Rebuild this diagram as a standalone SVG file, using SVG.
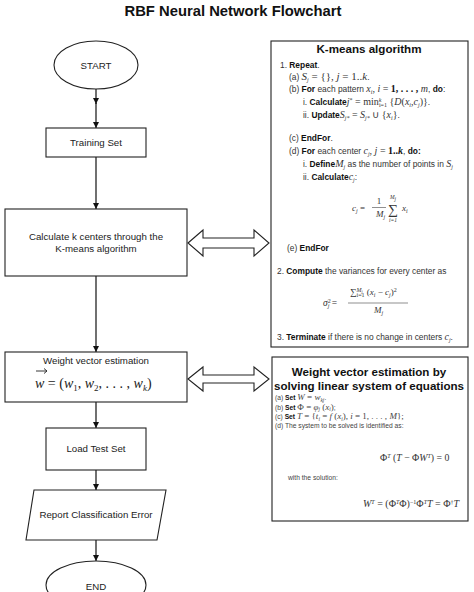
<svg xmlns="http://www.w3.org/2000/svg" width="474" height="592" viewBox="0 0 474 592">
<defs>
<style>
.sh{fill:#fff;stroke:#222;stroke-width:1.1}
.ln{stroke:#111;stroke-width:1.2;fill:none}
.t{font-family:"Liberation Sans",Arial,sans-serif;font-size:9.7px;fill:#222;text-anchor:middle}
.ttl{font-family:"Liberation Sans",Arial,sans-serif;font-weight:bold;fill:#111;text-anchor:middle}
.s{font-family:"Liberation Sans",Arial,sans-serif;font-size:8.4px;fill:#333}
.s2{font-family:"Liberation Sans",Arial,sans-serif;font-size:6.7px;fill:#444}
.b{font-weight:bold;fill:#111}
.m{font-family:"Liberation Serif","Times New Roman",serif;font-style:italic}
.u{font-family:"Liberation Serif","Times New Roman",serif;font-style:normal}
.sub{font-size:6px}
</style>
<marker id="ah" viewBox="0 0 10 10" refX="10" refY="5" markerWidth="5" markerHeight="5" orient="auto"><path d="M0,0L10,5L0,10z" fill="#111"/></marker>
</defs>
<rect width="474" height="592" fill="#fff"/>
<text x="233" y="16" class="ttl" font-size="14.8">RBF Neural Network Flowchart</text>

<g id="connectors">
<path class="ln" d="M96,89V104" marker-end="url(#ah)"/>
<path class="ln" d="M96,103V128" marker-end="url(#ah)"/>
<path class="ln" d="M96,157V209" marker-end="url(#ah)"/>
<path class="ln" d="M96,276V352" marker-end="url(#ah)"/>
<path class="ln" d="M96,402V428" marker-end="url(#ah)"/>
<path class="ln" d="M96,470V490" marker-end="url(#ah)"/>
<path class="ln" d="M96,540V561" marker-end="url(#ah)"/>
<polygon class="sh" points="188,243 203,230 203,238 254,238 254,230 269,243 254,256 254,248 203,248 203,256"/>
<polygon class="sh" points="188,379 203,367 203,375 254,375 254,367 269,379 254,391 254,383 203,383 203,391"/>
</g>

<g id="start">
<ellipse class="sh" cx="96" cy="65" rx="42" ry="24"/>
<text x="96" y="68.5" class="t">START</text>
</g>
<g id="training">
<rect class="sh" x="46" y="128" width="100" height="29"/>
<text x="96" y="146" class="t">Training Set</text>
</g>
<g id="kcenters">
<rect class="sh" x="5" y="209" width="182" height="67"/>
<text x="96" y="240" class="t">Calculate k centers through the</text>
<text x="96" y="252" class="t">K-means algorithm</text>
</g>
<g id="weight">
<rect class="sh" x="5" y="352" width="182" height="50"/>
<text x="96" y="364" class="t">Weight vector estimation</text>
<path d="M36,371H47M44,368.5L47,371L44,373.5" stroke="#222" stroke-width="0.9" fill="none"/>
<text x="35" y="388" font-size="14" fill="#222"><tspan class="m">w</tspan><tspan class="u"> = (</tspan><tspan class="m">w</tspan><tspan class="u" font-size="9" dy="3">1</tspan><tspan class="u" dy="-3">, </tspan><tspan class="m">w</tspan><tspan class="u" font-size="9" dy="3">2</tspan><tspan class="u" dy="-3">, . . . , </tspan><tspan class="m">w</tspan><tspan class="m" font-size="9" dy="3">k</tspan><tspan class="u" dy="-3">)</tspan></text>
</g>
<g id="loadtest">
<rect class="sh" x="46" y="428" width="100" height="42"/>
<text x="96" y="452" class="t">Load Test Set</text>
</g>
<g id="report">
<polygon class="sh" points="34,490 166,490 157,540 26,540"/>
<text x="96" y="518" class="t">Report Classification Error</text>
</g>
<g id="end">
<ellipse class="sh" cx="96" cy="585" rx="50" ry="24"/>
<text x="96" y="590" class="t">END</text>
</g>

<g id="kmeans">
<rect class="sh" x="271" y="41" width="197" height="306"/>
<text x="369" y="53" class="ttl" font-size="11.6">K-means algorithm</text>
<text x="280" y="68" class="s">1. <tspan class="b">Repeat</tspan>.</text>
<text x="289" y="80" class="s">(a)  <tspan class="m" font-size="11">S</tspan><tspan class="m sub" dy="2">j</tspan><tspan class="u" font-size="11" dy="-2"> = {},  </tspan><tspan class="m" font-size="11">j</tspan><tspan class="u" font-size="11"> = 1..</tspan><tspan class="m" font-size="11">k</tspan>.</text>
<text x="289" y="92" class="s">(b)  <tspan class="b">For</tspan> each pattern <tspan class="m" font-size="10">x</tspan><tspan class="m sub" dy="2">i</tspan><tspan class="u" font-size="10" dy="-2">,  </tspan><tspan class="m" font-size="10">i</tspan><tspan class="u" font-size="10"> = </tspan><tspan class="u b" font-size="10">1, . . . , </tspan><tspan class="m" font-size="10">m</tspan>, <tspan class="b">do</tspan>:</text>
<text x="303" y="105" class="s">i.  <tspan class="b">Calculate</tspan><tspan class="m" font-size="10">j</tspan><tspan class="u sub" dy="-3">*</tspan><tspan class="u" font-size="10" dy="3"> = min</tspan><tspan class="m sub" dy="-3.5">k</tspan><tspan class="u sub" dx="-2.5" dy="5.5">i=1</tspan><tspan class="u" font-size="10" dy="-2"> {</tspan><tspan class="m" font-size="10">D</tspan><tspan class="u" font-size="10">(</tspan><tspan class="m" font-size="10">x</tspan><tspan class="m sub" dy="2">i</tspan><tspan class="u" font-size="10" dy="-2">,</tspan><tspan class="m" font-size="10">c</tspan><tspan class="m sub" dy="2">j</tspan><tspan class="u" font-size="10" dy="-2">)}</tspan>.</text>
<text x="303" y="118" class="s">ii.  <tspan class="b">Update</tspan><tspan class="m" font-size="10">S</tspan><tspan class="m sub" dy="2">j*</tspan><tspan class="u" font-size="10" dy="-2"> = </tspan><tspan class="m" font-size="10">S</tspan><tspan class="m sub" dy="2">j*</tspan><tspan class="u" font-size="10" dy="-2"> ∪ {</tspan><tspan class="m" font-size="10">x</tspan><tspan class="m sub" dy="2">i</tspan><tspan class="u" font-size="10" dy="-2">}</tspan>.</text>
<text x="289" y="141" class="s">(c)  <tspan class="b">EndFor</tspan>.</text>
<text x="289" y="154" class="s">(d)  <tspan class="b">For</tspan> each center <tspan class="m" font-size="10">c</tspan><tspan class="m sub" dy="2">j</tspan><tspan class="u" font-size="10" dy="-2">,  </tspan><tspan class="m" font-size="10">j</tspan><tspan class="u" font-size="10"> = </tspan><tspan class="u b" font-size="10">1..</tspan><tspan class="m b" font-size="10">k</tspan>, <tspan class="b">do:</tspan></text>
<text x="303" y="167" class="s">i.  <tspan class="b">Define</tspan><tspan class="m" font-size="10">M</tspan><tspan class="m sub" dy="2">j</tspan><tspan dy="-2"> as the number of points in </tspan><tspan class="m" font-size="10">S</tspan><tspan class="m sub" dy="2">j</tspan></text>
<text x="303" y="180" class="s">ii.  <tspan class="b">Calculate</tspan><tspan class="m" font-size="10">c</tspan><tspan class="m sub" dy="2">j</tspan><tspan dy="-2">:</tspan></text>
<text x="352" y="211" font-size="9" fill="#333"><tspan class="m">c</tspan><tspan class="m sub" dy="2">j</tspan><tspan class="u" dy="-2"> =</tspan></text>
<text x="379" y="204" font-size="9" fill="#333" class="u" text-anchor="middle">1</text>
<line x1="372" y1="207.5" x2="386" y2="207.5" stroke="#444" stroke-width="0.6"/>
<text x="376" y="217" font-size="9" fill="#333"><tspan class="m">M</tspan><tspan class="m sub" dy="2">j</tspan></text>
<text x="393" y="214" font-size="14" fill="#333" class="u" text-anchor="middle">∑</text>
<text x="393" y="199" font-size="5.5" fill="#333" class="m" text-anchor="middle">M<tspan dy="1.5">j</tspan></text>
<text x="393" y="222" font-size="5.5" fill="#333" class="m" text-anchor="middle">i=1</text>
<text x="402" y="211" font-size="9" fill="#333"><tspan class="m">x</tspan><tspan class="m sub" dy="2">i</tspan></text>
<text x="287" y="251" class="s">(e)  <tspan class="b">EndFor</tspan></text>
<text x="277" y="274" class="s">2. <tspan class="b">Compute</tspan> the variances for every center as</text>
<text x="323" y="306" font-size="9.5" fill="#333"><tspan class="m">σ</tspan><tspan class="u sub" dy="-3">2</tspan><tspan class="m sub" dx="-3" dy="5">j</tspan><tspan class="u" dy="-2"> =</tspan></text>
<text x="350" y="295" font-size="9" fill="#333"><tspan class="u">∑</tspan><tspan class="m sub" dy="-3">M</tspan><tspan class="m" font-size="4" dy="1">j</tspan><tspan class="u sub" dx="-6" dy="4">i=1</tspan><tspan class="u" dy="-2"> (</tspan><tspan class="m">x</tspan><tspan class="m sub" dy="2">i</tspan><tspan class="u" dy="-2"> − </tspan><tspan class="m">c</tspan><tspan class="m sub" dy="2">j</tspan><tspan class="u" dy="-2">)</tspan><tspan class="u sub" dy="-3">2</tspan></text>
<line x1="348" y1="303" x2="408" y2="303" stroke="#444" stroke-width="0.6"/>
<text x="374" y="313" font-size="9" fill="#333"><tspan class="m">M</tspan><tspan class="m sub" dy="2">j</tspan></text>
<text x="277" y="340" class="s">3. <tspan class="b">Terminate</tspan> if there is no change in centers <tspan class="m" font-size="10">c</tspan><tspan class="m sub" dy="2">j</tspan><tspan dy="-2">.</tspan></text>
</g>

<g id="solve">
<rect class="sh" x="272" y="357" width="196" height="164"/>
<text x="369" y="376" class="ttl" font-size="11.6">Weight vector estimation by</text>
<text x="369" y="390" class="ttl" font-size="11.6">solving linear system of equations</text>
<text x="275" y="400" class="s2">(a) <tspan class="b">Set</tspan> <tspan class="m" font-size="9">W</tspan><tspan class="u" font-size="9"> = </tspan><tspan class="m" font-size="9">w</tspan><tspan class="m" font-size="5.5" dy="1.5">kj</tspan><tspan dy="-1.5">.</tspan></text>
<text x="275" y="409.5" class="s2">(b) <tspan class="b">Set</tspan> <tspan class="u" font-size="9">Φ = </tspan><tspan class="m" font-size="9">φ</tspan><tspan class="m" font-size="5.5" dy="1.5">j</tspan><tspan class="u" font-size="9" dy="-1.5"> (</tspan><tspan class="m" font-size="9">x</tspan><tspan class="m" font-size="5.5" dy="1.5">i</tspan><tspan class="u" font-size="9" dy="-1.5">)</tspan>;</text>
<text x="275" y="419" class="s2">(c) <tspan class="b">Set</tspan> <tspan class="m" font-size="9">T</tspan><tspan class="u" font-size="9"> = {</tspan><tspan class="m" font-size="9">t</tspan><tspan class="m" font-size="5.5" dy="1.5">i</tspan><tspan class="u" font-size="9" dy="-1.5"> = </tspan><tspan class="m" font-size="9">f</tspan><tspan class="u" font-size="9"> (</tspan><tspan class="m" font-size="9">x</tspan><tspan class="m" font-size="5.5" dy="1.5">i</tspan><tspan class="u" font-size="9" dy="-1.5">), </tspan><tspan class="m" font-size="9">i</tspan><tspan class="u" font-size="9"> = 1, . . . , </tspan><tspan class="m" font-size="9">M</tspan><tspan class="u" font-size="9">};</tspan></text>
<text x="275" y="428" class="s2">(d) The system to be solved is identified as:</text>
<text x="380" y="461" font-size="9.8" fill="#333"><tspan class="u">Φ</tspan><tspan class="m sub" dy="-3">T</tspan><tspan class="u" dy="3"> (</tspan><tspan class="m">T</tspan><tspan class="u"> − Φ</tspan><tspan class="m">W</tspan><tspan class="m sub" dy="-3">T</tspan><tspan class="u" dy="3">) = 0</tspan></text>
<text x="288" y="480" class="s2">with the solution:</text>
<text x="363" y="507" font-size="10" fill="#333"><tspan class="m">W</tspan><tspan class="m sub" dy="-3">T</tspan><tspan class="u" dy="3"> = (Φ</tspan><tspan class="m sub" dy="-3">T</tspan><tspan class="u" dy="3">Φ)</tspan><tspan class="u sub" dy="-3">−1</tspan><tspan class="u" dy="3">Φ</tspan><tspan class="m sub" dy="-3">T</tspan><tspan class="m" dy="3">T</tspan><tspan class="u"> = Φ</tspan><tspan class="u sub" dy="-3">†</tspan><tspan class="m" dy="3">T</tspan></text>
</g>
</svg>
